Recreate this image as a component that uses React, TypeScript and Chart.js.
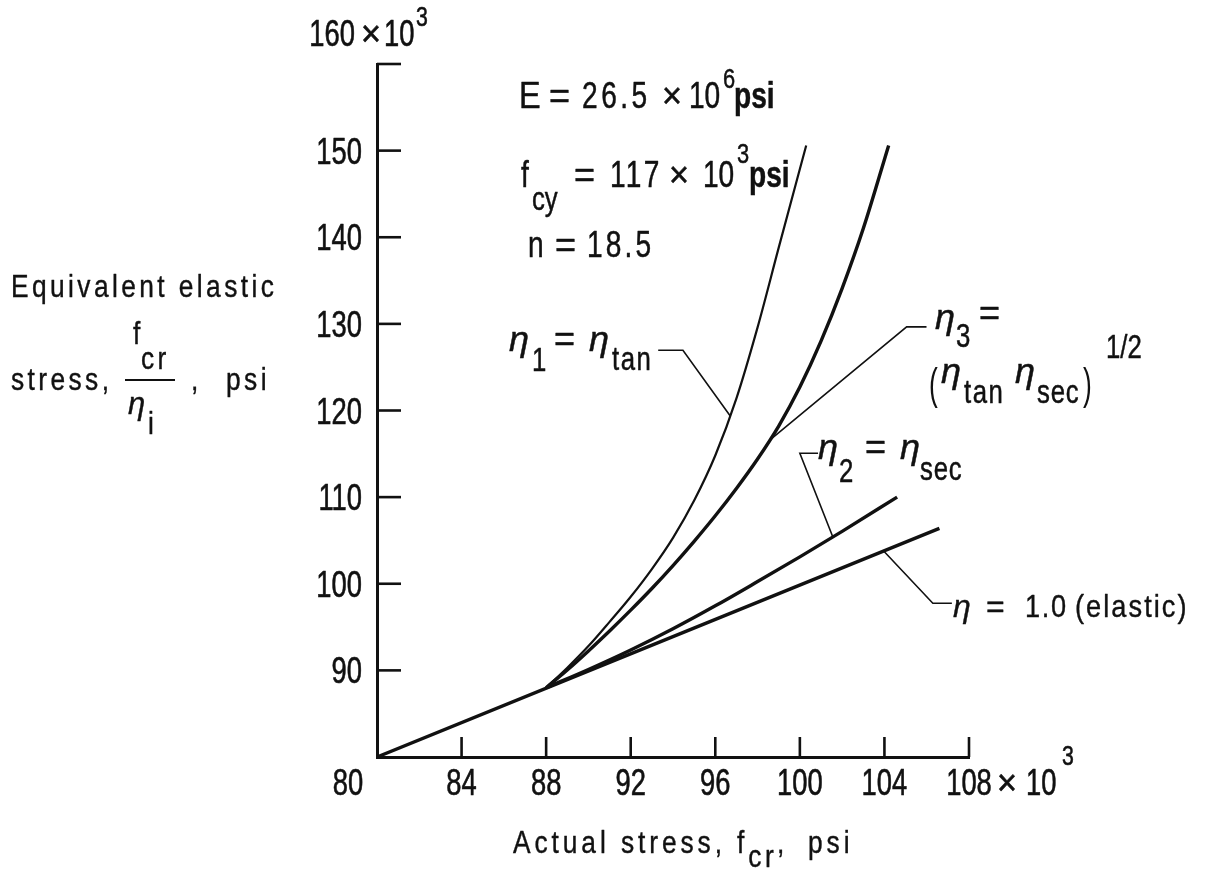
import { useEffect, useRef } from "react";
import { Chart, registerables } from "chart.js";

Chart.register(...registerables);

// ---- axis ticks ----
const xTickValues = [80, 84, 88, 92, 96, 100, 104, 108];
const xTickLabels = ["80", "84", "88", "92", "96", "100", "104", "108"];
const yTickValues = [90, 100, 110, 120, 130, 140, 150, 160];
const yTickLabels = ["90", "100", "110", "120", "130", "140", "150", "160"];

// ---- series (ksi); below 88 all curves coincide with the elastic line ----
const tangentX = [88, 89, 90, 91, 92, 93, 94, 95, 96, 97, 98, 99, 100.3];
const tangentY = [88, 90.3, 92.8, 95.6, 98.5, 101.7, 105.3, 109.6, 114.8, 121.4, 129.6, 138.8, 150.6];

const geoMeanX = [88, 89, 90, 91, 92, 93, 94, 95, 96, 97, 98, 99, 100, 101, 102, 103, 104.2];
const geoMeanY = [88, 90.05, 92.25, 94.55, 96.95, 99.45, 102.1, 104.9, 107.85, 111.0, 114.4, 118.2, 122.7, 128.0, 134.1, 141.0, 150.6];

const secantX = [88, 90, 92, 94, 96, 98, 100, 102, 104.6];
const secantY = [88, 90.1, 92.35, 94.8, 97.45, 100.25, 103.1, 106.05, 110.0];

const elasticX = [80, 106.6];
const elasticY = [80, 106.4];

// ---- leader lines (data units) ----
const leaderTan = [[93.3, 126.95], [94.47, 126.95], [96.7, 119.4]];
const leaderGeo = [[98.59, 116.6], [105.05, 129.65], [105.99, 129.65]];
const leaderSec = [[101.56, 105.4], [100.0, 115.07], [100.86, 115.07]];
const leaderEl = [[103.93, 103.87], [106.29, 97.75], [107.19, 97.75]];

const FAMILY = '"Liberation Sans", Arial, sans-serif';
const INK = "#111";

type TOpt = { size?: number; sx?: number; ls?: number; bold?: boolean; italic?: boolean; align?: CanvasTextAlign; heavy?: number };
type Run = TOpt & { t: string; x?: number; dy?: number };

function drawText(ctx: CanvasRenderingContext2D, s: string, x: number, y: number, o: TOpt) {
  const size = o.size ?? 34;
  const sx = o.sx ?? 0.78;
  ctx.save();
  ctx.translate(x, y);
  ctx.scale(sx, 1);
  ctx.font = `${o.italic ? "italic " : ""}${o.bold ? "bold " : ""}${size}px ${FAMILY}`;
  (ctx as any).letterSpacing = `${o.ls ?? 0}px`;
  ctx.textAlign = o.align ?? "left";
  ctx.textBaseline = "alphabetic";
  ctx.fillStyle = INK;
  ctx.fillText(s, 0, 0);
  if (o.heavy) {
    ctx.strokeStyle = INK;
    ctx.lineWidth = o.heavy;
    ctx.lineJoin = "round";
    ctx.strokeText(s, 0, 0);
  }
  const w = ctx.measureText(s).width * sx;
  ctx.restore();
  return w;
}

function drawRuns(ctx: CanvasRenderingContext2D, x0: number, y0: number, runs: Run[], base: TOpt) {
  let x = x0;
  for (const r of runs) {
    if (r.x !== undefined) x = r.x;
    const w = drawText(ctx, r.t, x, y0 + (r.dy ?? 0), { ...base, ...r });
    x += w;
  }
}

const toPts = (xs: number[], ys: number[]) => xs.map((x, i) => ({ x, y: ys[i] }));

const decorPlugin = {
  id: "decor",
  afterDraw(chart: any) {
    const ctx: CanvasRenderingContext2D = chart.ctx;
    const xs = chart.scales.x;
    const ys = chart.scales.y;
    const area = chart.chartArea;
    const px = (v: number) => xs.getPixelForValue(v);
    const py = (v: number) => ys.getPixelForValue(v);

    ctx.save();
    ctx.strokeStyle = INK;
    ctx.lineCap = "butt";

    // inward tick marks
    ctx.lineWidth = 2.6;
    yTickValues.forEach((v) => {
      ctx.beginPath();
      ctx.moveTo(area.left, py(v));
      ctx.lineTo(area.left + 24, py(v));
      ctx.stroke();
    });
    xTickValues.forEach((v) => {
      if (v === 80) return;
      ctx.beginPath();
      ctx.moveTo(px(v), area.bottom);
      ctx.lineTo(px(v), area.bottom - 20);
      ctx.stroke();
    });

    // leader lines
    ctx.lineWidth = 1.6;
    ctx.lineJoin = "miter";
    [leaderTan, leaderGeo, leaderSec, leaderEl].forEach((pts) => {
      ctx.beginPath();
      pts.forEach(([a, b], i) => (i ? ctx.lineTo(px(a), py(b)) : ctx.moveTo(px(a), py(b))));
      ctx.stroke();
    });
    ctx.restore();

    const tick: TOpt = { size: 36, sx: 0.76, heavy: 0.6 };
    // y tick labels
    yTickValues.forEach((v, i) => {
      if (v === 160) return;
      drawText(ctx, yTickLabels[i], area.left - 15, py(v) + 13, { ...tick, align: "right" });
    });
    // top label 160 x 10^3
    const topY = py(160) - 18;
    drawText(ctx, yTickLabels[yTickLabels.length - 1], area.left - 22, topY, { ...tick, align: "right" });
    drawRuns(ctx, 0, topY, [
      { t: "×", x: area.left - 16, sx: 0.95 },
      { t: "10", x: area.left + 7 },
      { t: "3", x: area.left + 39, dy: -20, size: 28 },
    ], tick);

    // x tick labels
    const xBase = area.bottom + 38;
    xTickValues.forEach((v, i) => {
      const cx = v === 80 ? px(v) - 29 : px(v);
      drawText(ctx, xTickLabels[i], cx, xBase, { ...tick, align: "center" });
    });
    const r108 = px(108);
    drawRuns(ctx, 0, xBase, [
      { t: "×", x: r108 + 28, sx: 0.95 },
      { t: "10", x: r108 + 57 },
      { t: "3", x: r108 + 93, dy: -30, size: 28 },
    ], tick);

    // axis titles
    const title: TOpt = { size: 31, sx: 0.85, ls: 4, heavy: 0.4 };
    drawText(ctx, "Equivalent elastic", 11, 297, title);
    drawText(ctx, "stress,", 11, 390, title);
    drawText(ctx, "f", 133, 344, title);
    drawText(ctx, "cr", 141, 369, title);
    ctx.save();
    ctx.strokeStyle = INK;
    ctx.lineWidth = 2;
    ctx.beginPath();
    ctx.moveTo(125, 380);
    ctx.lineTo(175, 380);
    ctx.stroke();
    ctx.restore();
    drawText(ctx, "η", 128, 414, { ...title, italic: true, ls: 0, sx: 1 });
    drawText(ctx, "i", 148, 434, { ...title, ls: 0 });
    drawText(ctx, ",", 191, 390, title);
    drawText(ctx, "psi", 226, 390, title);

    drawRuns(ctx, 513, 853, [
      { t: "Actual stress, f", ls: 4.6 },
      { t: "cr", dy: 14, size: 31 },
      { t: ",", ls: 4.6 },
      { t: "psi", x: 808, ls: 4.6 },
    ], title);

    // annotations
    const ann: TOpt = { size: 36, sx: 0.78, heavy: 0.5 };
    const eta: TOpt = { italic: true, sx: 1 };
    drawRuns(ctx, 0, 108, [
      { t: "E", x: 519, sx: 0.9 },
      { t: "=", x: 549, sx: 1 },
      { t: "26.5", x: 582, ls: 4.5 },
      { t: "×", x: 662, sx: 0.95 },
      { t: "10", x: 689 },
      { t: "6", x: 723, dy: -20, size: 28 },
      { t: "psi", x: 734, bold: true },
    ], ann);
    drawRuns(ctx, 0, 187, [
      { t: "f", x: 521 },
      { t: "cy", x: 532, dy: 23, size: 33 },
      { t: "=", x: 574, sx: 1 },
      { t: "117", x: 610, ls: 3 },
      { t: "×", x: 669, sx: 0.95 },
      { t: "10", x: 703 },
      { t: "3", x: 737, dy: -24, size: 28 },
      { t: "psi", x: 749, bold: true },
    ], ann);
    drawRuns(ctx, 0, 257, [
      { t: "n", x: 528 },
      { t: "=", x: 555, sx: 1 },
      { t: "18.5", x: 587, ls: 4 },
    ], ann);

    // eta_1 = eta_tan
    drawRuns(ctx, 0, 351, [
      { t: "η", x: 509, ...eta },
      { t: "1", x: 532, dy: 20, size: 33 },
      { t: "=", x: 554, sx: 1 },
      { t: "η", x: 589, ...eta },
      { t: "tan", x: 612, dy: 19, size: 33, ls: 2 },
    ], ann);

    // eta_3 = (eta_tan eta_sec)^1/2
    drawRuns(ctx, 0, 329, [
      { t: "η", x: 935, ...eta },
      { t: "3", x: 956, dy: 18, size: 33 },
      { t: "=", x: 979, dy: -4, sx: 1 },
    ], ann);
    drawRuns(ctx, 0, 383, [
      { t: "(", x: 929, dy: 16, size: 44, sx: 0.6, heavy: 0 },
      { t: "η", x: 941, ...eta },
      { t: "tan", x: 964, dy: 20, size: 33, ls: 2 },
      { t: "η", x: 1015, ...eta },
      { t: "sec", x: 1037, dy: 20, size: 33, ls: 1 },
      { t: ")", x: 1083, dy: 16, size: 44, sx: 0.6, heavy: 0 },
      { t: "1/2", x: 1106, dy: -25, size: 33 },
    ], ann);

    // eta_2 = eta_sec
    drawRuns(ctx, 0, 459, [
      { t: "η", x: 818, ...eta },
      { t: "2", x: 839, dy: 23, size: 33 },
      { t: "=", x: 865, sx: 1 },
      { t: "η", x: 900, ...eta },
      { t: "sec", x: 920, dy: 21, size: 33, ls: 1 },
    ], ann);

    // eta = 1.0 (elastic)
    drawRuns(ctx, 0, 617, [
      { t: "η", x: 953, ...eta },
      { t: "=", x: 986, sx: 1 },
      { t: "1.0", x: 1025, ls: 2 },
      { t: "(elastic)", x: 1075, ls: 2.4 },
    ], { size: 32, sx: 0.85, heavy: 0.4 });
  },
};

export default function App() {
  const ref = useRef<HTMLCanvasElement>(null);
  useEffect(() => {
    if (!ref.current) return;
    const line = (xs: number[], ys: number[], w: number) => ({
      data: toPts(xs, ys),
      borderColor: INK,
      borderWidth: w,
      pointRadius: 0,
      fill: false,
      cubicInterpolationMode: "monotone" as const,
    });
    const chart = new Chart(ref.current, {
      type: "line",
      data: {
        datasets: [
          { label: "η1 = ηtan", ...line(tangentX, tangentY, 2.2) },
          { label: "η3 = (ηtan ηsec)^1/2", ...line(geoMeanX, geoMeanY, 3.4) },
          { label: "η2 = ηsec", ...line(secantX, secantY, 3.4) },
          { label: "η = 1.0 (elastic)", ...line(elasticX, elasticY, 3.4) },
        ],
      },
      options: {
        responsive: false,
        devicePixelRatio: 1,
        animation: false,
        parsing: false as any,
        layout: { padding: { left: 377, right: 247, top: 64, bottom: 120 } },
        plugins: { legend: { display: false }, tooltip: { enabled: false } },
        scales: {
          x: {
            type: "linear",
            min: 80,
            max: 108,
            grid: { display: false, drawTicks: false },
            border: { display: true, width: 3, color: INK },
            ticks: { display: false },
            afterFit: (s: any) => { s.height = 0; },
          },
          y: {
            type: "linear",
            min: 80,
            max: 160,
            grid: { display: false, drawTicks: false },
            border: { display: true, width: 3, color: INK },
            ticks: { display: false },
            afterFit: (s: any) => { s.width = 0; },
          },
        },
      },
      plugins: [decorPlugin],
    });
    return () => chart.destroy();
  }, []);
  return (
    <div style={{ position: "absolute", left: 0, top: 0, width: 1216, height: 877, background: "#fff" }}>
      <canvas ref={ref} width={1216} height={877} style={{ display: "block" }} />
    </div>
  );
}
